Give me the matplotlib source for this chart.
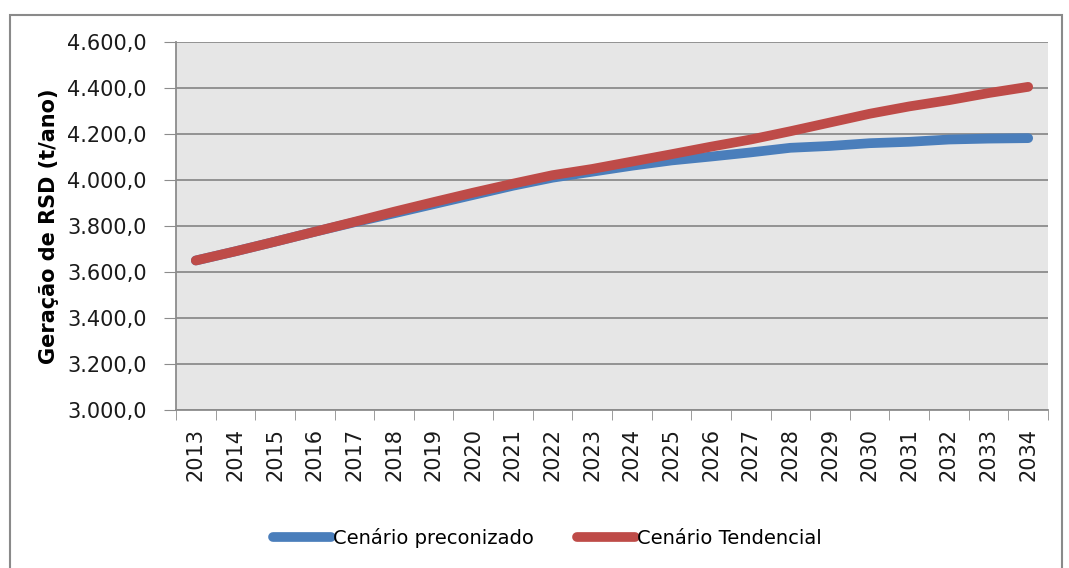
import numpy as np
import matplotlib
matplotlib.use("Agg")
import matplotlib.pyplot as plt
from matplotlib.patches import Rectangle

# data (t/ano)
anos = [str(a) for a in range(2013, 2035)]
preconizado = [3650, 3690, 3732, 3775, 3816, 3855, 3895, 3935, 3975, 4010, 4036,
               4062, 4085, 4102, 4120, 4140, 4148, 4160, 4166, 4176, 4180, 4182]
tendencial = [3650, 3690, 3732, 3775, 3818, 3862, 3904, 3945, 3984, 4021, 4048,
              4080, 4112, 4145, 4176, 4212, 4250, 4288, 4320, 4347, 4378, 4405]
yticks = [3000, 3200, 3400, 3600, 3800, 4000, 4200, 4400, 4600]

azul = "#4A7EBB"
vermelho = "#BE4B48"
cinza = "#8c8c8c"

fig = plt.figure(figsize=(10.69, 5.68), dpi=100)
fig.patches.append(Rectangle((10 / 1069, -0.01), 1052 / 1069, 1 - 15 / 568 + 0.01,
                             transform=fig.transFigure, fill=False,
                             edgecolor="#8a8a8a", linewidth=1.5))

ax = fig.add_axes([176 / 1069, 1 - 410 / 568, (1048 - 176) / 1069, (410 - 42) / 568])
ax.set_facecolor("#E6E6E6")

x = np.arange(len(anos))
ax.plot(x, preconizado, color=azul, linewidth=7, solid_capstyle="round",
        label="Cenário preconizado", zorder=3)
ax.plot(x, tendencial, color=vermelho, linewidth=7, solid_capstyle="round",
        label="Cenário Tendencial", zorder=4)

ax.set_xlim(-0.5, len(anos) - 0.5)
ax.set_ylim(3000, 4600)
ax.set_yticks(yticks)
# formato brasileiro: 4.600,0
ax.set_yticklabels([f"{v:,.1f}".replace(",", "X").replace(".", ",").replace("X", ".")
                    for v in yticks], fontsize=15, color="#1a1a1a")
ax.yaxis.grid(True, color=cinza, linewidth=1.3)
ax.set_axisbelow(True)

ax.set_xticks(x)
ax.set_xticklabels(anos, rotation=90, fontsize=15, color="#1a1a1a")
ax.set_xticks(np.arange(-0.5, len(anos)), minor=True)
ax.tick_params(axis="x", which="major", length=0, pad=13)
ax.tick_params(axis="x", which="minor", length=7, color=cinza)
ax.tick_params(axis="y", length=9, color=cinza, pad=12)

for s in ["top", "right"]:
    ax.spines[s].set_visible(False)
for s in ["left", "bottom"]:
    ax.spines[s].set_color(cinza)
    ax.spines[s].set_linewidth(1.3)

ax.set_ylabel("Geração de RSD (t/ano)", fontsize=15, fontweight="bold", labelpad=6)

fig.legend(loc="center", bbox_to_anchor=(0.512, 1 - 538 / 568), ncol=2, frameon=False,
           fontsize=14, handlelength=3, handletextpad=0.1, columnspacing=2.2)

fig.savefig("out.png", dpi=100)
